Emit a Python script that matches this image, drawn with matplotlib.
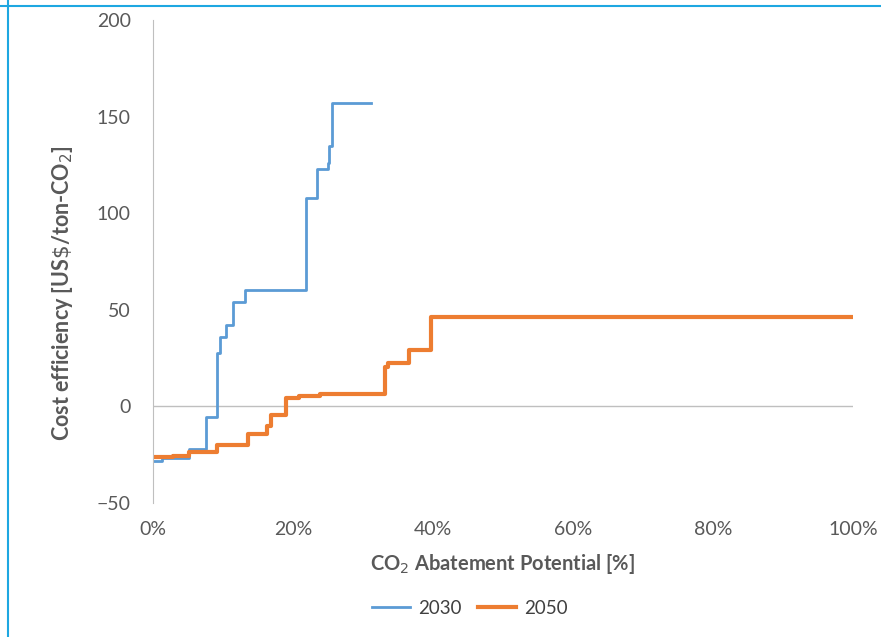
import matplotlib.pyplot as plt
from matplotlib.lines import Line2D
from matplotlib.ticker import FuncFormatter

plt.rcParams['font.family'] = ['Lato', 'DejaVu Sans']

# abatement potential (%) where each step starts, and its cost (US$/ton-CO2)
x_2030 = [0, 1.3, 5.2, 7.6, 9.2, 9.5, 10.4, 11.4, 13.2, 21.8, 23.4, 25.0, 25.2, 25.5]
y_2030 = [-28.3, -26.5, -22, -5.6, 27.5, 36, 42, 54, 60, 107.7, 123, 125.8, 135, 157]
end_2030 = 31.1

x_2050 = [0, 2.9, 5.2, 9.2, 13.5, 16.3, 16.9, 19.0, 20.8, 23.9, 33.2, 33.5, 36.6, 39.7]
y_2050 = [-26, -25.5, -23.4, -20, -14.5, -10, -4.5, 4.2, 5.4, 6.6, 20.5, 22.6, 29.2, 46.4]
end_2050 = 100

grey = '#595959'

fig = plt.figure(figsize=(8.81, 6.37), dpi=100)
ax = fig.add_axes([153/881, 1 - 503/637, 700/881, 483/637])

ax.plot(x_2030 + [end_2030], y_2030 + [y_2030[-1]], drawstyle='steps-post',
        color='#5b9bd5', lw=2, label='2030')
ax.plot(x_2050 + [end_2050], y_2050 + [y_2050[-1]], drawstyle='steps-post',
        color='#ed7d31', lw=3, label='2050')

ax.axhline(0, color='#bfbfbf', lw=1, zorder=0)
ax.set_xlim(0, 100)
ax.set_ylim(-50, 200)
ax.set_xticks(range(0, 101, 20))
ax.set_yticks(range(-50, 201, 50))
ax.xaxis.set_major_formatter(FuncFormatter(lambda v, p: f'{v:.0f}%'))
for s in ['top', 'right', 'bottom']:
    ax.spines[s].set_visible(False)
ax.spines['left'].set_color('#bfbfbf')
ax.tick_params(length=0, colors=grey, labelsize=14)
ax.tick_params(axis='x', pad=13)
ax.tick_params(axis='y', pad=16)

ax.set_xlabel('CO$_2$ Abatement Potential [%]', fontsize=14.5, fontweight='bold',
              color=grey, labelpad=10)
ax.set_ylabel('Cost efficiency [US$\\$$/ton-CO$_2$]', fontsize=15.5, fontweight='bold',
              color=grey)
ax.yaxis.set_label_coords(-0.112, 0.435)

ax.legend(loc='upper center', bbox_to_anchor=(0.453, -0.165), ncol=2, frameon=False,
          fontsize=13.5, handlelength=2.0, handletextpad=0.45, columnspacing=0.9,
          labelcolor='#404040')

# light blue frame edges of the original screenshot
fig.add_artist(Line2D([0, 1], [1 - 6/637, 1 - 6/637], color='#1ea7e1', lw=1.5))
fig.add_artist(Line2D([7.5/881, 7.5/881], [0, 1], color='#1ea7e1', lw=1.5))

fig.savefig('out.png', dpi=100)
